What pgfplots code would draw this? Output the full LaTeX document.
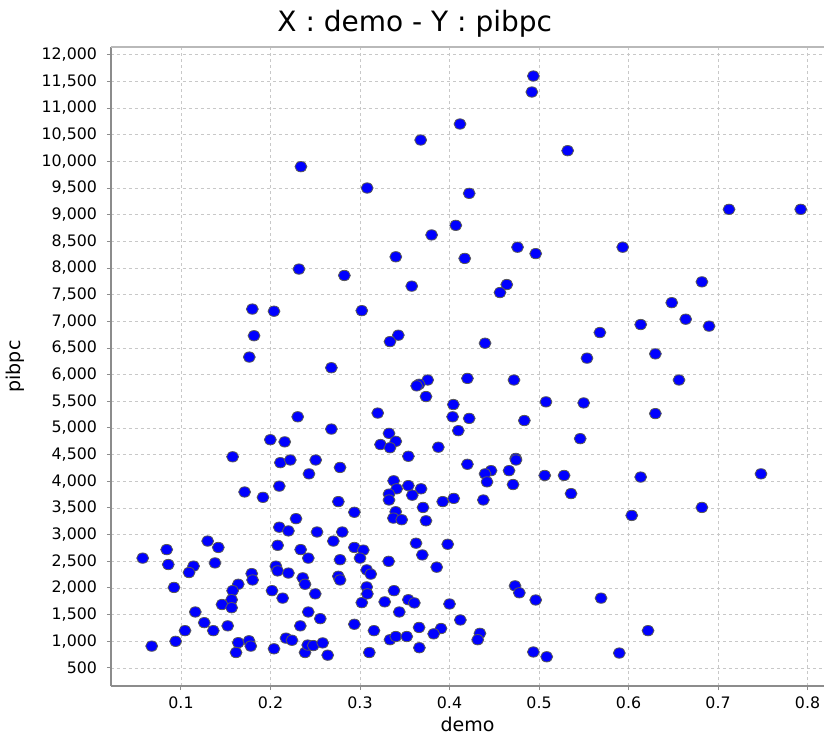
\documentclass[border=0pt]{standalone}
\usepackage{pgfplots}
\pgfplotsset{compat=1.18}
\usepackage{fontspec}
\setmainfont{DejaVu Sans}

\definecolor{gridgray}{RGB}{200,200,200}
\definecolor{axisgray}{RGB}{140,140,140}

\begin{document}
\begin{tikzpicture}
\begin{axis}[
  name=ax,
  scale only axis,
  width=356.5pt, height=319.5pt,
  xmin=0.0218, xmax=0.8184,
  ymin=162, ymax=12144,
  axis lines*=left,
  axis line style={axisgray, line width=0.9pt},
  xtick={0.1,0.2,0.3,0.4,0.5,0.6,0.7,0.8},
  xticklabels={0.1,0.2,0.3,0.4,0.5,0.6,0.7,0.8},
  ytick={500,1000,...,12000},
  /pgf/number format/assume math mode=true,
  yticklabel style={/pgf/number format/1000 sep={,}, font=\fontsize{7.9}{9}\selectfont, xshift=-1.5pt},
  xticklabel style={font=\fontsize{7.9}{9}\selectfont},
  scaled y ticks=false,
  tick align=outside,
  major tick length=2pt,
  tick style={axisgray, line width=0.5pt},
  xmajorgrids, ymajorgrids,
  grid style={gridgray, dash pattern=on 1.5pt off 1.5pt, line width=0.4pt},
  xlabel={demo}, ylabel={pibpc},
  xlabel style={font=\fontsize{9.5}{11}\selectfont, yshift=3pt},
  ylabel style={font=\fontsize{9.5}{11}\selectfont, yshift=1.5pt},
  title={X : demo - Y : pibpc},
  title style={font=\fontsize{14}{16}\selectfont, at={(0.426,1)}, anchor=base, yshift=2pt},
  clip=false,
]
\draw[gridgray!80!gray, line width=0.6pt] (rel axis cs:0,1) -- (rel axis cs:1,1);
\addplot[only marks, mark=*, mark size=2.6pt,
  mark options={fill=blue, draw=gray!70!black, line width=0.4pt, xscale=1.15}]
coordinates {
(0.234,9900) (0.4937,11600) (0.492,11300) (0.4117,10700) (0.3678,10400)
(0.532,10200) (0.308,9500) (0.422,9400) (0.407,8800) (0.380,8620)
(0.476,8390) (0.4963,8270) (0.340,8210) (0.417,8180) (0.5935,8390)
(0.7123,9100) (0.7924,9100) (0.2318,7980) (0.2825,7860) (0.1797,7230)
(0.2039,7190) (0.302,7200) (0.1816,6730) (0.1763,6330) (0.268,6130)
(0.2304,5210) (0.268,4980) (0.1998,4780) (0.2159,4740) (0.1577,4460)
(0.3578,7660) (0.464,7690) (0.4564,7540) (0.3428,6740) (0.3335,6620)
(0.4397,6590) (0.568,6790) (0.5536,6310) (0.3756,5900) (0.366,5820)
(0.3633,5790) (0.420,5930) (0.472,5900) (0.3737,5590) (0.4043,5440)
(0.3198,5280) (0.5078,5490) (0.5499,5470) (0.4035,5210) (0.422,5180)
(0.4836,5140) (0.4098,4950) (0.3324,4900) (0.3229,4690) (0.340,4750)
(0.3335,4630) (0.3875,4640) (0.354,4470) (0.546,4800) (0.474,4430)
(0.682,7740) (0.6483,7350) (0.6639,7040) (0.690,6910) (0.6136,6940)
(0.630,6390) (0.6564,5900) (0.630,5270)
(0.211,4350) (0.2221,4400) (0.2505,4400) (0.2777,4260) (0.243,4140)
(0.2098,3910) (0.1711,3800) (0.1916,3700) (0.2758,3620) (0.2937,3420)
(0.2285,3300) (0.2098,3140) (0.22,3070) (0.252,3050) (0.2802,3050)
(0.2702,2880) (0.208,2800) (0.2937,2760) (0.2337,2720) (0.1298,2880)
(0.084,2720) (0.1417,2760) (0.0572,2560) (0.0858,2440) (0.138,2470)
(0.2422,2560) (0.2777,2530) (0.114,2410) (0.109,2290) (0.206,2410)
(0.208,2320) (0.22,2280) (0.179,2270) (0.180,2150) (0.236,2190)
(0.2386,2070) (0.2758,2220) (0.2777,2150) (0.0922,2010) (0.164,2070)
(0.1577,1950) (0.2017,1950) (0.1566,1780) (0.2136,1810) (0.250,1890)
(0.1458,1690) (0.1566,1630) (0.116,1550) (0.2422,1550) (0.2556,1425)
(0.302,1725) (0.126,1350) (0.1361,1200) (0.1522,1290) (0.2333,1290)
(0.2937,1320) (0.1045,1200) (0.094,1000) (0.0673,910) (0.164,975)
(0.1615,790) (0.176,1010) (0.178,910) (0.2039,860) (0.2173,1060)
(0.224,1020) (0.2386,790) (0.2416,930) (0.2478,920) (0.2583,970)
(0.2639,740)
(0.42,4320) (0.4743,4400) (0.4665,4200) (0.4464,4200) (0.4397,4140)
(0.4419,3990) (0.471,3940) (0.5064,4110) (0.528,4110) (0.5358,3770)
(0.3376,4010) (0.354,3920) (0.3682,3860) (0.341,3860) (0.3324,3760)
(0.3324,3650) (0.3584,3740) (0.3924,3620) (0.4047,3680) (0.4378,3650)
(0.3704,3510) (0.3399,3430) (0.3373,3310) (0.3466,3280) (0.3737,3260)
(0.3626,2840) (0.398,2820) (0.3037,2710) (0.30,2560) (0.3696,2620)
(0.332,2500) (0.3857,2390) (0.3075,2340) (0.312,2260) (0.3075,2020)
(0.3082,1890) (0.338,1950) (0.3276,1740) (0.354,1780) (0.3607,1720)
(0.4,1700) (0.3439,1550) (0.4121,1400) (0.3156,1200) (0.366,1260)
(0.3905,1240) (0.3823,1140) (0.3335,1030) (0.340,1090) (0.3522,1090)
(0.3663,880) (0.3104,790) (0.434,1150) (0.4315,1030) (0.4732,2040)
(0.478,1910) (0.4963,1775) (0.4937,800) (0.5086,710) (0.5693,1810)
(0.6136,4080) (0.748,4140) (0.6036,3360) (0.682,3510) (0.6218,1200)
(0.5897,780)
};
\end{axis}
\pgfresetboundingbox
\path[use as bounding box] ([shift={(-55.5pt,-25pt)}]ax.south west) rectangle ([shift={(357pt,343pt)}]ax.south west);
\end{tikzpicture}
\end{document}
